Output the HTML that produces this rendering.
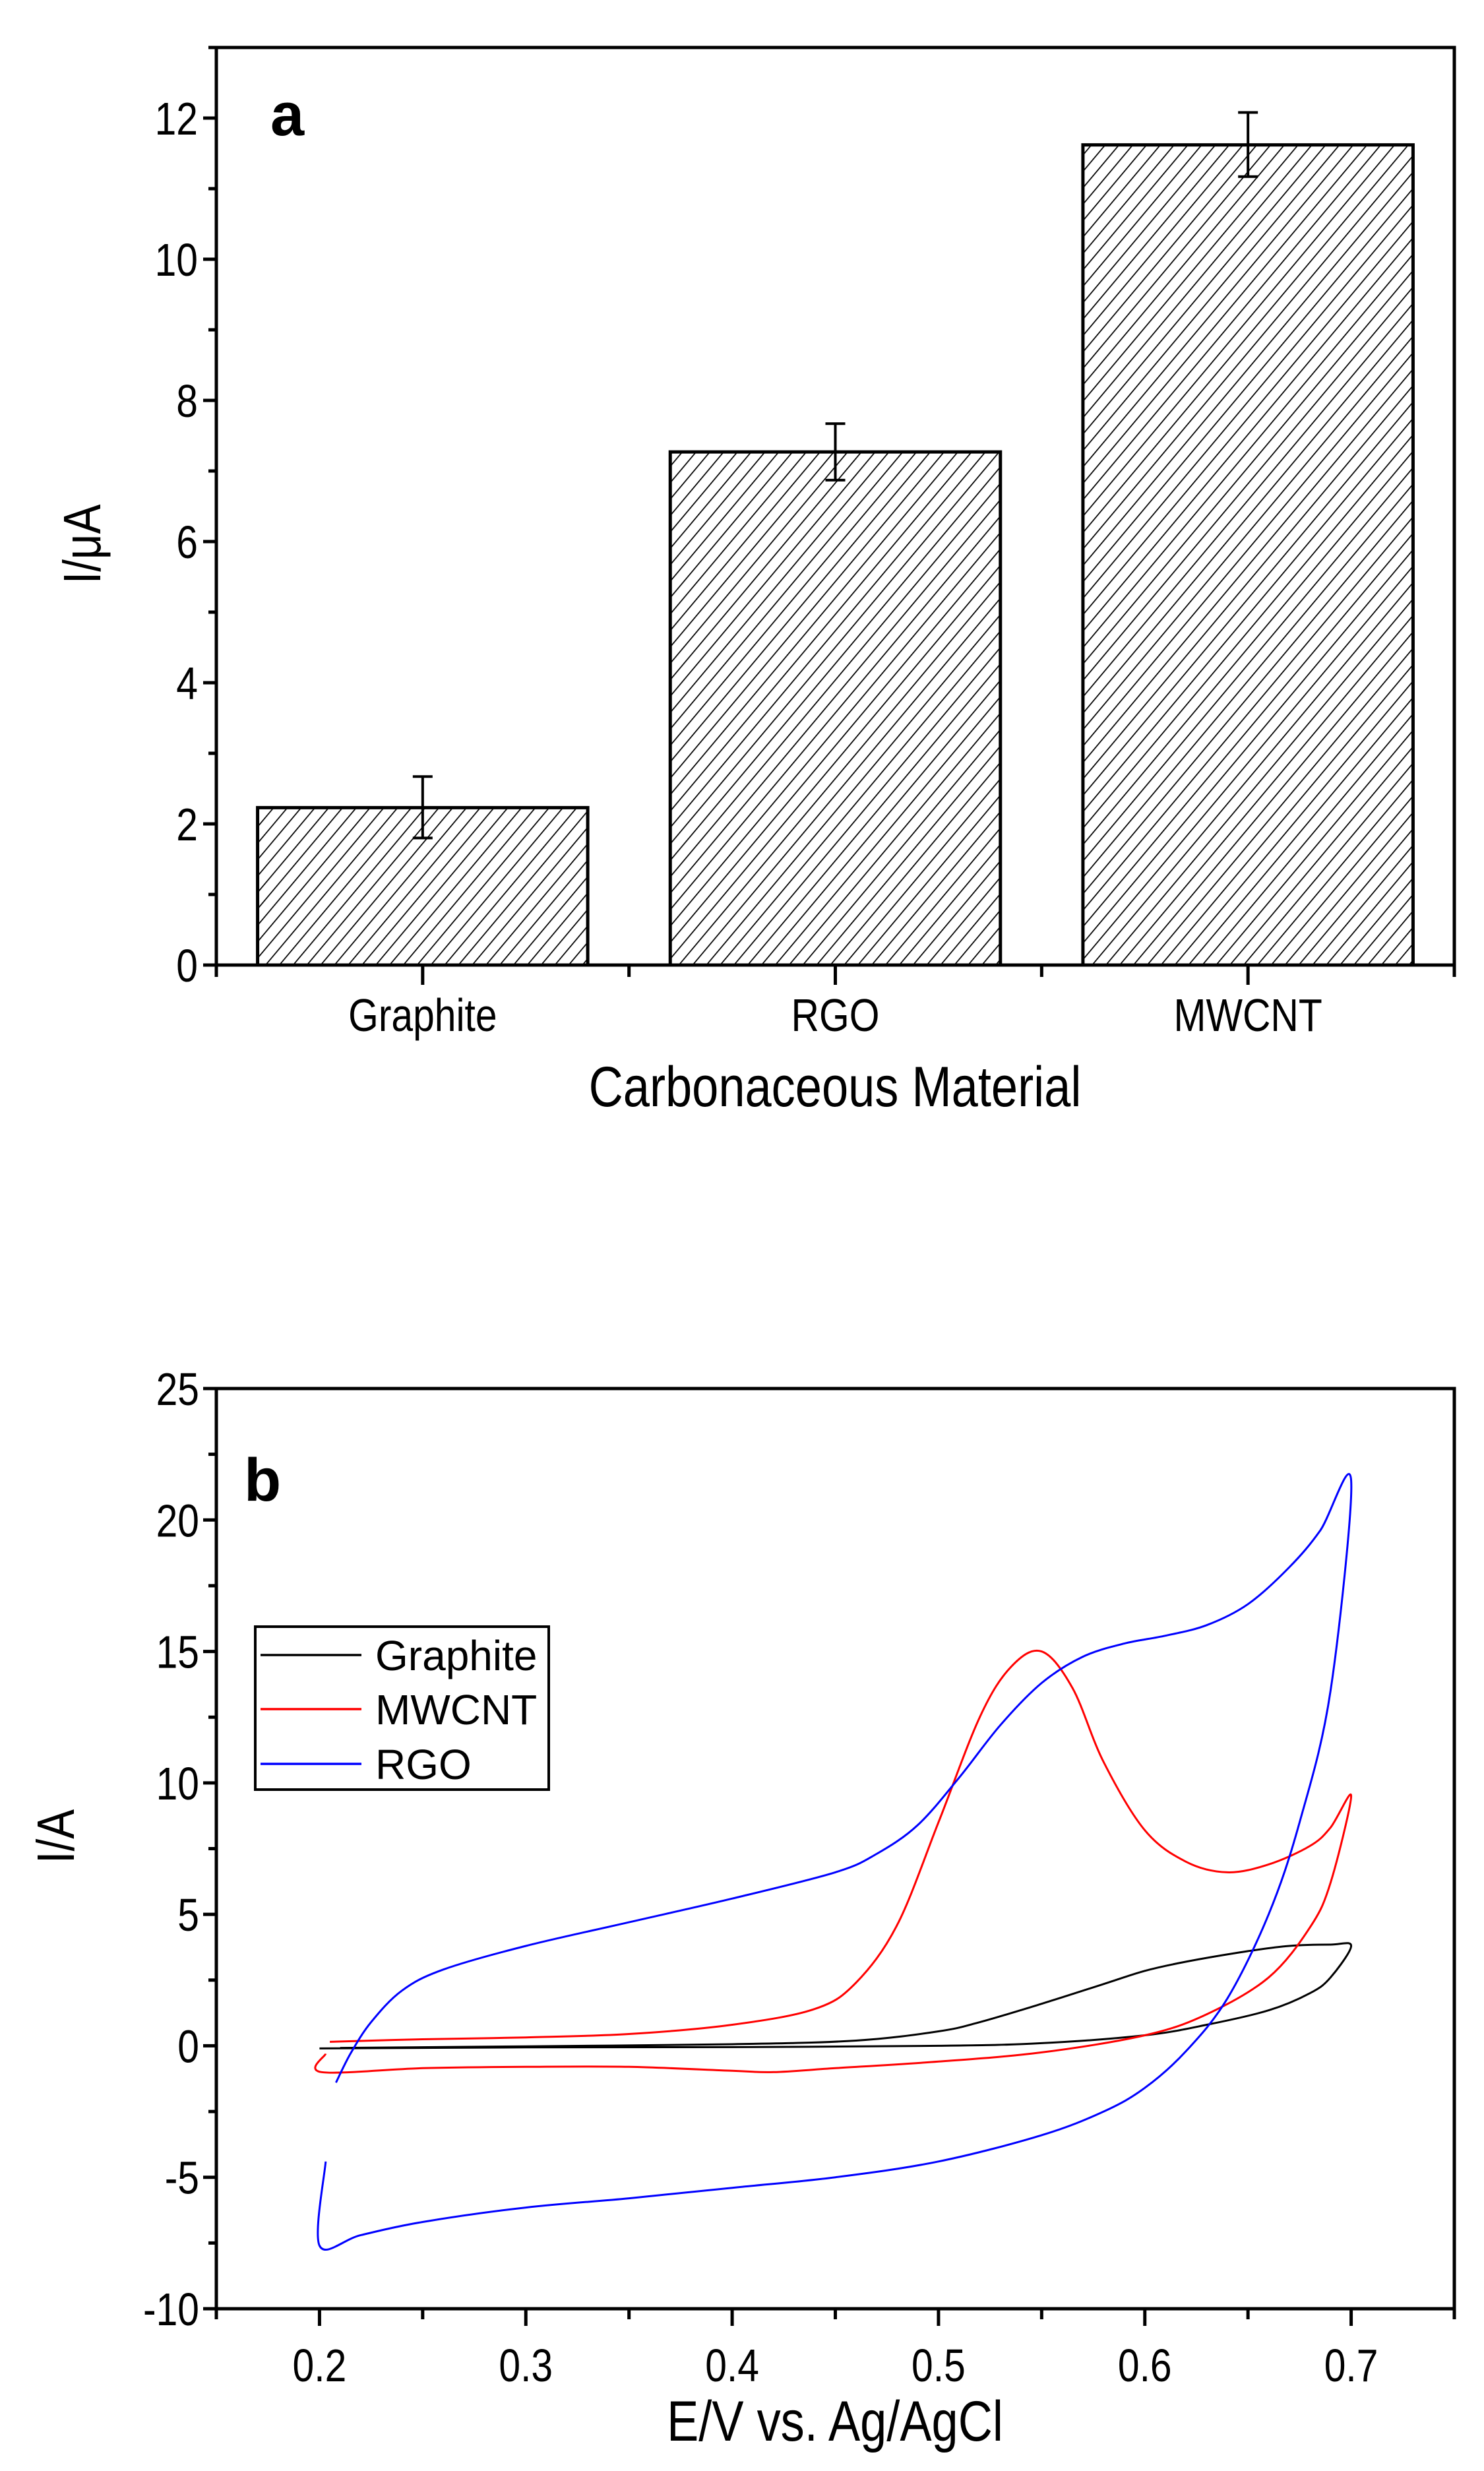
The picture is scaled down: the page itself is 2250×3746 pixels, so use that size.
<!DOCTYPE html>
<html><head><meta charset="utf-8"><style>
html,body{margin:0;padding:0;background:#fff;}
svg{display:block;font-family:"Liberation Sans",Arial,sans-serif;}
</style></head><body>
<svg id="s" width="2250" height="3746" viewBox="0 0 2250 3746" xmlns="http://www.w3.org/2000/svg">
<defs>
<pattern id="h" width="16" height="16" patternUnits="userSpaceOnUse" patternTransform="rotate(40)">
<rect width="16" height="16" fill="#fff"/>
<line x1="0" y1="0" x2="0" y2="16" stroke="#000" stroke-width="3.5"/>
</pattern>
</defs>
<g id="a"></g>
<g id="b"></g>
</svg>
<script>
var NS="http://www.w3.org/2000/svg";
function el(p,t,a,txt){var e=document.createElementNS(NS,t);for(var k in a)e.setAttribute(k,a[k]);if(txt!==undefined)e.textContent=txt;p.appendChild(e);return e;}
function nt(p,x,y,size,anchor,txt,rot){
 var g=el(p,'g',{transform:'translate('+x+','+y+')'+(rot?' rotate(-90)':'')+' scale(0.84,1)'});
 el(g,'text',{x:0,y:0,'font-size':size,'text-anchor':anchor},txt);
}
// Panel a
var A=document.getElementById('a');
var L=328,R=2205,T=72,B=1463;
function ax(x){return L+(x-0.5)*(R-L)/3;}
function ay(y){return B-y*(B-T)/13;}
var bars=[[1,2.23,1.8,2.67,"Graphite"],[2,7.27,6.87,7.67,"RGO"],[3,11.62,11.17,12.08,"MWCNT"]];
bars.forEach(function(b){
 var x0=ax(b[0]-0.4),x1=ax(b[0]+0.4);
 el(A,'rect',{x:x0,y:ay(b[1]),width:x1-x0,height:B-ay(b[1]),fill:'url(#h)',stroke:'#000','stroke-width':5});
 var cx=ax(b[0]);
 el(A,'line',{x1:cx,y1:ay(b[2]),x2:cx,y2:ay(b[3]),stroke:'#000','stroke-width':4});
 el(A,'line',{x1:cx-15,y1:ay(b[2]),x2:cx+15,y2:ay(b[2]),stroke:'#000','stroke-width':4});
 el(A,'line',{x1:cx-15,y1:ay(b[3]),x2:cx+15,y2:ay(b[3]),stroke:'#000','stroke-width':4});
 nt(A,cx,1563,70,'middle',b[4]);
});
el(A,'rect',{x:L,y:T,width:R-L,height:B-T,fill:'none',stroke:'#000','stroke-width':5});
for(var i=0;i<=13;i++){var y=ay(i);el(A,'line',{x1:L,y1:y,x2:L-(i%2==0?20:12),y2:y,stroke:'#000','stroke-width':5});
 if(i%2==0)nt(A,L-28,y+25,70,'end',String(i));}
for(var v=0.5;v<=3.51;v+=0.5){var x=ax(v);var maj=Math.abs(v-Math.round(v))<0.01&&v>0.9&&v<3.1;el(A,'line',{x1:x,y1:B,x2:x,y2:B+(maj?30:18),stroke:'#000','stroke-width':5});}
nt(A,1266,1677,86,'middle','Carbonaceous Material');
nt(A,152,825,80,'middle','I/μA',true);
el(A,'text',{x:410,y:205,'font-size':92,'font-weight':'bold'},'a');
// Panel b
var Bg=document.getElementById('b');
var L2=328,R2=2205,T2=2105,B2=3500;
function bx(x){return L2+(x-0.15)*(R2-L2)/0.6;}
function by(y){return B2-(y+10)*(B2-T2)/35;}
function smooth(pts){
 var P=pts.map(function(p){return [bx(p[0]),by(p[1])];});
 var d='M'+P[0][0].toFixed(1)+','+P[0][1].toFixed(1);
 for(var i=0;i<P.length-1;i++){
  var p0=P[i-1]||P[i],p1=P[i],p2=P[i+1],p3=P[i+2]||p2;
  var c1=[p1[0]+(p2[0]-p0[0])/6,p1[1]+(p2[1]-p0[1])/6],c2=[p2[0]-(p3[0]-p1[0])/6,p2[1]-(p3[1]-p1[1])/6];
  d+='C'+c1[0].toFixed(1)+','+c1[1].toFixed(1)+' '+c2[0].toFixed(1)+','+c2[1].toFixed(1)+' '+p2[0].toFixed(1)+','+p2[1].toFixed(1);
 }
 return d;
}
var gra=[[0.2,-0.1],[0.3,-0.06],[0.4,-0.05],[0.5,0],[0.55,0.1],[0.6,0.4],[0.63,0.8],[0.66,1.35],[0.68,2.0],[0.69,2.6],[0.7,3.8],[0.69,3.85],[0.67,3.8],[0.65,3.6],[0.62,3.2],[0.6,2.85],[0.58,2.35],[0.55,1.6],[0.52,0.9],[0.5,0.55],[0.46,0.2],[0.4,0.06],[0.3,-0.02],[0.21,-0.08]];
var mw=[[0.203,-0.3],[0.201,-1.0],[0.25,-0.85],[0.3,-0.8],[0.35,-0.8],[0.4,-0.95],[0.42,-1.0],[0.45,-0.85],[0.5,-0.6],[0.55,-0.25],[0.6,0.4],[0.63,1.2],[0.66,2.6],[0.68,4.5],[0.69,6.2],[0.7,9.5],[0.69,8.3],[0.68,7.6],[0.66,6.9],[0.64,6.6],[0.62,7.0],[0.6,8.2],[0.58,10.8],[0.565,13.6],[0.55,15.0],[0.535,14.4],[0.52,12.5],[0.5,8.5],[0.48,4.6],[0.46,2.4],[0.44,1.4],[0.4,0.8],[0.35,0.45],[0.3,0.32],[0.25,0.25],[0.205,0.15]];
var rgo=[[0.203,-4.4],[0.200,-7.6],[0.22,-7.2],[0.25,-6.7],[0.3,-6.15],[0.35,-5.8],[0.4,-5.4],[0.45,-5.0],[0.5,-4.4],[0.55,-3.4],[0.58,-2.5],[0.6,-1.6],[0.62,-0.2],[0.64,1.8],[0.66,5],[0.675,8.5],[0.69,13.5],[0.7,21.5],[0.685,19.6],[0.67,18.2],[0.65,16.8],[0.63,16.0],[0.61,15.6],[0.59,15.3],[0.57,14.8],[0.55,13.8],[0.53,12.2],[0.51,10.2],[0.49,8.4],[0.47,7.3],[0.45,6.6],[0.4,5.6],[0.35,4.7],[0.3,3.8],[0.26,2.9],[0.24,2.1],[0.225,0.9],[0.215,-0.3],[0.208,-1.4]];
el(Bg,'path',{d:smooth(gra),fill:'none',stroke:'#000','stroke-width':3});
el(Bg,'path',{d:smooth(mw),fill:'none',stroke:'#f00','stroke-width':3});
el(Bg,'path',{d:smooth(rgo),fill:'none',stroke:'#00f','stroke-width':3});
el(Bg,'rect',{x:L2,y:T2,width:R2-L2,height:B2-T2,fill:'none',stroke:'#000','stroke-width':5});
for(var j=0;j<=14;j++){var yv=-10+j*2.5,y=by(yv);el(Bg,'line',{x1:L2,y1:y,x2:L2-(j%2==0?20:12),y2:y,stroke:'#000','stroke-width':5});
 if(j%2==0)nt(Bg,L2-26,y+25,70,'end',String(yv));}
for(var k=0;k<=12;k++){var xv=0.15+k*0.05,x=bx(xv);var mj=(k%2==1);el(Bg,'line',{x1:x,y1:B2,x2:x,y2:B2+(mj?26:16),stroke:'#000','stroke-width':5});
 if(mj)nt(Bg,x,3610,70,'middle',xv.toFixed(1));}
nt(Bg,1266,3700,86,'middle','E/V vs. Ag/AgCl');
nt(Bg,112,2784,80,'middle','I/A',true);
el(Bg,'text',{x:370,y:2275,'font-size':92,'font-weight':'bold'},'b');
el(Bg,'rect',{x:387,y:2466,width:445,height:247,fill:'#fff',stroke:'#000','stroke-width':4});
[['Graphite','#000',2509],['MWCNT','#f00',2591],['RGO','#00f',2674]].forEach(function(l){
 el(Bg,'line',{x1:395,y1:l[2],x2:548,y2:l[2],stroke:l[1],'stroke-width':3.5});
 el(Bg,'text',{x:569,y:l[2]+23,'font-size':64},l[0]);
});
</script>
</body></html>
